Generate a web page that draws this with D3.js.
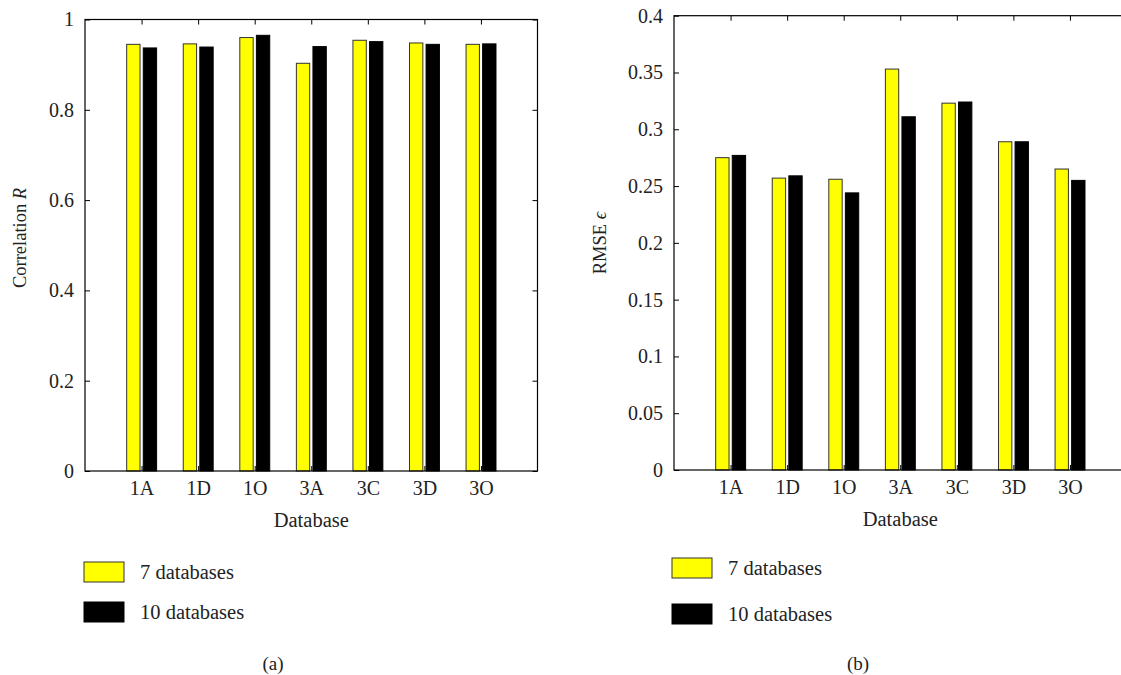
<!DOCTYPE html>
<html>
<head>
<meta charset="utf-8">
<script src="https://cdnjs.cloudflare.com/ajax/libs/d3/7.8.5/d3.min.js"></script>
<style>
  body { margin: 0; background: #fff; }
  text { font-family: "Liberation Serif", "DejaVu Serif", serif; fill: #222; }
</style>
</head>
<body>
<div id="chart"></div>
<script>
// data
let categories = ["1A", "1D", "1O", "3A", "3C", "3D", "3O"];
let seriesNames = ["7 databases", "10 databases"];
let correlation7 = [0.945, 0.946, 0.960, 0.903, 0.954, 0.948, 0.945];
let correlation10 = [0.937, 0.939, 0.965, 0.940, 0.951, 0.945, 0.946];
let rmse7 = [0.275, 0.257, 0.256, 0.353, 0.323, 0.289, 0.265];
let rmse10 = [0.277, 0.259, 0.244, 0.311, 0.324, 0.289, 0.255];
let correlationTicks = [0, 0.2, 0.4, 0.6, 0.8, 1];
let rmseTicks = [0, 0.05, 0.1, 0.15, 0.2, 0.25, 0.3, 0.35, 0.4];

// svg dimensions
let svgWidth = 1121,
  svgHeight = 675;

let svg = d3
  .select("#chart")
  .append("svg")
  .attr("width", svgWidth)
  .attr("height", svgHeight);

let barColors = ["#ffff00", "#000000"];
let barOffsets = [-0.145, 0.148];
let barWidth = 0.236;

// draws one panel: frame, ticks, bars, labels, legend
function drawPanel(opts) {
  let x = d3.scaleLinear().domain([0, 8]).range([opts.left, opts.left + 452.5]);
  let y = d3.scaleLinear().domain(opts.domain).range([opts.bottom, opts.top]);
  let g = svg.append("g");

  // bars
  let rows = categories.map((c, i) => ({ cat: c, i: i, vals: [opts.s1[i], opts.s2[i]] }));
  rows.forEach((row) => {
    g.selectAll(null)
      .data(row.vals)
      .enter()
      .append("rect")
      .attr("x", (d, k) => x(row.i + 1 + barOffsets[k] - barWidth / 2))
      .attr("width", x(barWidth) - x(0))
      .attr("y", (d) => y(d))
      .attr("height", (d) => y(opts.domain[0]) - y(d))
      .attr("fill", (d, k) => barColors[k])
      .attr("stroke", (d, k) => (k == 0 ? "#333" : "#000"))
      .attr("stroke-width", 1);
  });

  // left axis with labels, ticks inward
  let leftAxis = d3
    .axisLeft(y)
    .tickValues(opts.ticks)
    .tickSize(-5)
    .tickPadding(11)
    .tickFormat((d) => d3.format("")(+d.toFixed(2)));
  let la = g.append("g").attr("transform", `translate(${opts.left},0)`).call(leftAxis);
  la.select(".domain").remove();
  la.selectAll("line").attr("stroke", "#000");
  la.selectAll("text").attr("font-size", "20px");

  // right side ticks
  let rightAxis = d3.axisRight(y).tickValues(opts.ticks).tickSize(-5).tickFormat("");
  let ra = g.append("g").attr("transform", `translate(${x(8)},0)`).call(rightAxis);
  ra.select(".domain").remove();

  // bottom axis with category labels
  let bottomAxis = d3
    .axisBottom(x)
    .tickValues(d3.range(1, 8))
    .tickSize(-5)
    .tickPadding(10)
    .tickFormat((d) => categories[d - 1]);
  let ba = g.append("g").attr("transform", `translate(0,${opts.bottom})`).call(bottomAxis);
  ba.select(".domain").remove();
  ba.selectAll("text").attr("font-size", "20px");

  // top ticks
  let topAxis = d3.axisTop(x).tickValues(d3.range(1, 8)).tickSize(-5).tickFormat("");
  let ta = g.append("g").attr("transform", `translate(0,${opts.top})`).call(topAxis);
  ta.select(".domain").remove();

  // frame
  g.append("rect")
    .attr("x", opts.left)
    .attr("y", opts.top)
    .attr("width", x(8) - opts.left)
    .attr("height", opts.bottom - opts.top)
    .attr("fill", "none")
    .attr("stroke", "#000")
    .attr("stroke-width", 1.2);

  // axis titles
  g.append("text")
    .attr("x", (opts.left + x(8)) / 2)
    .attr("y", opts.bottom + 56)
    .attr("text-anchor", "middle")
    .attr("font-size", "20.5px")
    .text("Database");

  let yl = g
    .append("text")
    .attr("transform", `translate(${opts.ylabelX}, ${opts.ylabelY}) rotate(-90)`)
    .attr("text-anchor", "middle")
    .attr("font-size", "18.5px");
  yl.append("tspan").text(opts.ylabel);
  yl.append("tspan").attr("font-style", "italic").text(opts.ysym);

  // legend
  seriesNames.forEach((name, k) => {
    g.append("rect")
      .attr("x", opts.legX)
      .attr("y", opts.legY[k] - 10)
      .attr("width", 40)
      .attr("height", 20)
      .attr("fill", barColors[k])
      .attr("stroke", k == 0 ? "#333" : "#000")
      .attr("stroke-width", 1);
    g.append("text")
      .attr("x", opts.legX + 56)
      .attr("y", opts.legY[k])
      .attr("dy", "0.35em")
      .attr("font-size", "20.5px")
      .text(name);
  });

  // panel caption
  g.append("text")
    .attr("x", opts.captionX)
    .attr("y", 663)
    .attr("dy", "0.35em")
    .attr("text-anchor", "middle")
    .attr("font-size", "19px")
    .text(opts.caption);
}

drawPanel({
  left: 85,
  top: 19.5,
  bottom: 471,
  domain: [0, 1],
  ticks: correlationTicks,
  s1: correlation7,
  s2: correlation10,
  ylabel: "Correlation ",
  ysym: "R",
  ylabelX: 26,
  ylabelY: 238,
  legX: 84,
  legY: [572, 612],
  caption: "(a)",
  captionX: 273,
});

drawPanel({
  left: 674,
  top: 15.7,
  bottom: 470,
  domain: [0, 0.4],
  ticks: rmseTicks,
  s1: rmse7,
  s2: rmse10,
  ylabel: "RMSE ",
  ysym: "ϵ",
  ylabelX: 606,
  ylabelY: 243,
  legX: 672,
  legY: [568, 614],
  caption: "(b)",
  captionX: 858,
});
</script>
</body>
</html>
